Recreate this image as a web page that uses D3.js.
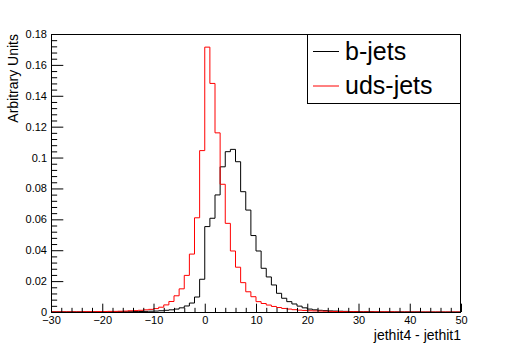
<!DOCTYPE html>
<html>
<head>
<meta charset="utf-8">
<script src="https://cdn.jsdelivr.net/npm/d3@7"></script>
<style>
  body { margin: 0; background: #fff; }
  svg { display: block; font-family: "Liberation Sans", Arial, sans-serif; }
</style>
</head>
<body>
<div id="chart"></div>
<script>
// 全体
const SVG_WIDTH = 512;
const SVG_HEIGHT = 347;
const FRAME = [34, 461, 312, 51];   // top, right, bottom, left

// ビンの下端 (幅 1)
const binLow = [
  -30, -29, -28, -27, -26, -25, -24, -23, -22, -21,
  -20, -19, -18, -17, -16, -15, -14, -13, -12, -11,
  -10,  -9,  -8,  -7,  -6,  -5,  -4,  -3,  -2,  -1,
    0,   1,   2,   3,   4,   5,   6,   7,   8,   9,
   10,  11,  12,  13,  14,  15,  16,  17,  18,  19,
   20,  21,  22,  23,  24,  25,  26,  27,  28,  29,
   30,  31,  32,  33,  34,  35,  36,  37,  38,  39,
   40,  41,  42,  43,  44,  45,  46,  47,  48,  49
];
const binHigh = 50;

// b-jets
const bJets = [
  0.0001, 0.0001, 0.0001, 0.0001, 0.0001, 0.0001, 0.0001, 0.0001, 0.0001, 0.0001,
  0.0001, 0.0001, 0.0001, 0.0002, 0.0002, 0.0002, 0.0003, 0.0003, 0.0004, 0.0005,
  0.0006, 0.0008, 0.0011, 0.0014, 0.0019, 0.0027, 0.0039, 0.0058, 0.0097, 0.0212,
  0.0553, 0.0607, 0.0758, 0.0940, 0.1038, 0.1053, 0.0973, 0.0779, 0.0660, 0.0495,
  0.0395, 0.0283, 0.0227, 0.0175, 0.0121, 0.0089, 0.0067, 0.0052, 0.0038, 0.0027,
  0.0019, 0.0014, 0.0011, 0.0009, 0.0007, 0.0006, 0.0005, 0.0004, 0.0003, 0.0003,
  0.0002, 0.0002, 0.0002, 0.0001, 0.0001, 0.0001, 0.0001, 0.0001, 0.0001, 0.0001,
  0.0001, 0.0001, 0.0000, 0.0000, 0.0000, 0.0000, 0.0000, 0.0000, 0.0000, 0.0000
];

// uds-jets
const udsJets = [
  0.0001, 0.0001, 0.0001, 0.0001, 0.0001, 0.0001, 0.0002, 0.0002, 0.0002, 0.0003,
  0.0003, 0.0004, 0.0004, 0.0005, 0.0006, 0.0008, 0.0009, 0.0011, 0.0014, 0.0017,
  0.0022, 0.0031, 0.0046, 0.0068, 0.0105, 0.0150, 0.0237, 0.0375, 0.0610, 0.1045,
  0.1715, 0.1480, 0.1160, 0.0827, 0.0574, 0.0395, 0.0290, 0.0190, 0.0131, 0.0099,
  0.0067, 0.0055, 0.0045, 0.0036, 0.0029, 0.0023, 0.0019, 0.0015, 0.0012, 0.0010,
  0.0008, 0.0007, 0.0006, 0.0005, 0.0004, 0.0003, 0.0003, 0.0002, 0.0002, 0.0002,
  0.0001, 0.0001, 0.0001, 0.0001, 0.0001, 0.0001, 0.0001, 0.0000, 0.0000, 0.0000,
  0.0000, 0.0000, 0.0000, 0.0000, 0.0000, 0.0000, 0.0000, 0.0000, 0.0000, 0.0000
];

// 目盛り
const xMajorTicks = [-30, -20, -10, 0, 10, 20, 30, 40, 50];
const xMinorTicks = [-28, -26, -24, -22, -18, -16, -14, -12, -8, -6, -4, -2,
  2, 4, 6, 8, 12, 14, 16, 18, 22, 24, 26, 28, 32, 34, 36, 38, 42, 44, 46, 48];
const yMajorTicks = [0, 0.02, 0.04, 0.06, 0.08, 0.1, 0.12, 0.14, 0.16, 0.18];
const yTickLabels = ["0", "0.02", "0.04", "0.06", "0.08", "0.1", "0.12", "0.14", "0.16", "0.18"];
const yMinorTicks = [0.004, 0.008, 0.012, 0.016, 0.024, 0.028, 0.032, 0.036,
  0.044, 0.048, 0.052, 0.056, 0.064, 0.068, 0.072, 0.076, 0.084, 0.088, 0.092, 0.096,
  0.104, 0.108, 0.112, 0.116, 0.124, 0.128, 0.132, 0.136, 0.144, 0.148, 0.152, 0.156,
  0.164, 0.168, 0.172, 0.176];

const seriesNames = ["b-jets", "uds-jets"];
const seriesColors = ["#000000", "#ff0000"];
const xTitle = "jethit4 - jethit1";
const yTitle = "Arbitrary Units";

const svg = d3.select("#chart")
  .append("svg")
  .attr("width", SVG_WIDTH)
  .attr("height", SVG_HEIGHT);

const x = d3.scaleLinear().domain([-30, 50]).range([FRAME[3], FRAME[1]]);
const y = d3.scaleLinear().domain([0, 0.18]).range([FRAME[2], FRAME[0]]);

const plotW = FRAME[1] - FRAME[3];
const plotH = FRAME[2] - FRAME[0];

// ヒストグラム (ステップ)
const step = d3.line()
  .x(d => x(d[0]))
  .y(d => y(d[1]))
  .curve(d3.curveStepAfter);

[bJets, udsJets].forEach((vals, k) => {
  const pts = binLow.map((b, i) => [b, vals[i]]);
  pts.push([binHigh, vals[vals.length - 1]]);
  svg.append("path")
    .attr("d", step(pts))
    .attr("fill", "none")
    .attr("stroke", seriesColors[k])
    .attr("stroke-width", 1);
});

// 枠
svg.append("rect")
  .attr("x", FRAME[3] + 0.5)
  .attr("y", FRAME[0] + 0.5)
  .attr("width", plotW - 1)
  .attr("height", plotH)
  .attr("fill", "none")
  .attr("stroke", "#000")
  .attr("stroke-width", 1);

// X軸
svg.append("g")
  .attr("transform", `translate(0,${FRAME[2]})`)
  .call(d3.axisBottom(x).tickValues(xMajorTicks).tickSize(-0.03 * plotH).tickPadding(4));
svg.append("g")
  .attr("transform", `translate(0,${FRAME[2]})`)
  .call(d3.axisBottom(x).tickValues(xMinorTicks).tickSize(-0.015 * plotH).tickFormat(""));

// Y軸
svg.append("g")
  .attr("transform", `translate(${FRAME[3]},0)`)
  .call(d3.axisLeft(y).tickValues(yMajorTicks).tickSize(-0.03 * plotW).tickPadding(4)
    .tickFormat((d, i) => yTickLabels[i]));
svg.append("g")
  .attr("transform", `translate(${FRAME[3]},0)`)
  .call(d3.axisLeft(y).tickValues(yMinorTicks).tickSize(-0.015 * plotW).tickFormat(""));

svg.selectAll(".domain").remove();
svg.selectAll(".tick line").attr("stroke", "#000");
svg.selectAll(".tick text")
  .attr("font-family", "'Liberation Sans', Arial, sans-serif")
  .attr("font-size", 11)
  .attr("fill", "#000");

// 軸タイトル
svg.append("text")
  .text(xTitle)
  .attr("x", FRAME[1])
  .attr("y", 340)
  .attr("text-anchor", "end")
  .attr("font-size", 14);

svg.append("text")
  .text(yTitle)
  .attr("transform", `translate(18,${FRAME[0]}) rotate(-90)`)
  .attr("text-anchor", "end")
  .attr("font-size", 14);

// 凡例
const legend = svg.append("g");
legend.append("rect")
  .attr("x", 307.5)
  .attr("y", FRAME[0] + 0.5)
  .attr("width", FRAME[1] - 308)
  .attr("height", 69)
  .attr("fill", "#fff")
  .attr("stroke", "#000");
seriesNames.forEach((name, k) => {
  const cy = 51.5 + k * 34.5;
  legend.append("line")
    .attr("x1", 313).attr("x2", 339)
    .attr("y1", cy).attr("y2", cy)
    .attr("stroke", seriesColors[k])
    .attr("stroke-width", 1);
  legend.append("text")
    .text(name)
    .attr("x", 345)
    .attr("y", cy + 8)
    .attr("font-size", 25)
    .attr("fill", "#000");
});
</script>
</body>
</html>
